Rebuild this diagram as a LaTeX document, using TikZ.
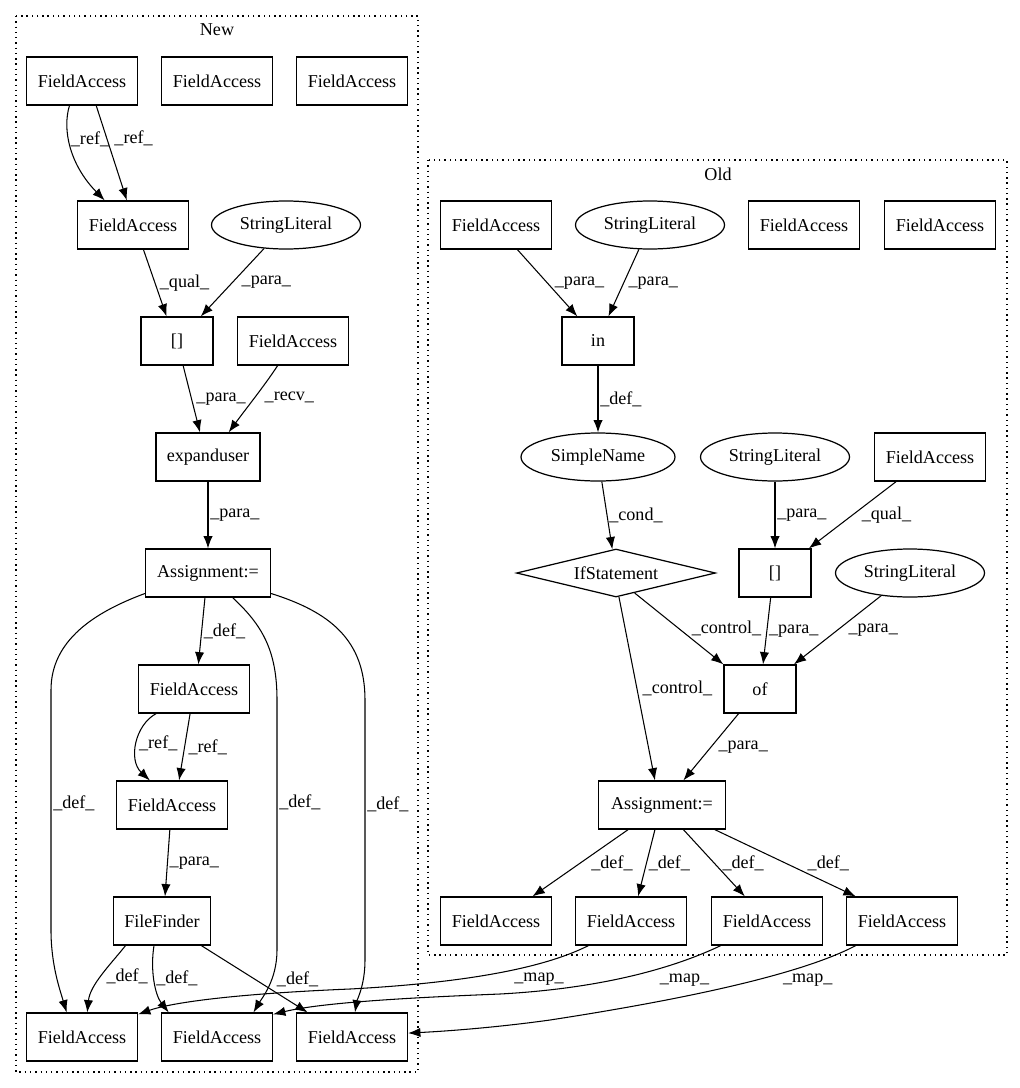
\documentclass[tikz,border=0pt]{standalone}
\usepackage{fontspec}
\setmainfont{Liberation Serif}
\usepackage{tikz}
\usetikzlibrary{arrows.meta, shapes.geometric}
\tikzset{box/.style = {shape = rectangle, draw, line width = 0.7pt, minimum width = 2.22cm, minimum height = 0.96cm, inner sep = 0pt, font = \fontsize{10.3}{12}\selectfont}}
\tikzset{lit/.style = {shape = ellipse, draw, line width = 0.7pt, minimum width = 2.98cm, minimum height = 0.96cm, inner sep = 0pt, font = \fontsize{10.3}{12}\selectfont}}
\tikzset{cond/.style = {shape = diamond, draw, line width = 0.7pt, aspect = 4.15, minimum width = 3.98cm, minimum height = 0.96cm, inner sep = 0pt, font = \fontsize{10.3}{12}\selectfont}}
\tikzset{edge/.style = {-{Latex[length = 7pt, width = 5.3pt]}, line width = 0.6pt}}
\tikzset{lbl/.style = {font = \fontsize{10.3}{12}\selectfont, inner sep = 1pt, anchor = west}}
\tikzset{cluster/.style = {draw, line width = 0.7pt, dash pattern = on 0.8pt off 2.2pt}}

\begin{document}
\begin{tikzpicture}[x = 0.02cm, y = -0.02cm]
	\fill[white] (0, 0) rectangle (1020, 1088);
	\useasboundingbox (0, 0) rectangle (1020, 1088);

	\draw[cluster] (16, 16) rectangle (418, 1072);
	\draw[cluster] (428, 160) rectangle (1007, 955);
	\node[font = \fontsize{10.3}{12}\selectfont] (tnew) at (217, 30) {New};
	\node[font = \fontsize{10.3}{12}\selectfont] (told) at (718, 174) {Old};

	\node[box] (n1) at (82, 81) {FieldAccess};
	\node[box] (n2) at (217, 81) {FieldAccess};
	\node[box] (n3) at (352, 81) {FieldAccess};
	\node[box] (n4) at (133, 225) {FieldAccess};
	\node[lit] (s1) at (286, 225) {StringLiteral};
	\node[box, minimum width = 1.44cm] (b1) at (177, 341) {[]};
	\node[box] (n5) at (293, 341) {FieldAccess};
	\node[box, minimum width = 2.08cm] (ex) at (208, 457) {expanduser};
	\node[box, minimum width = 2.5cm] (a1) at (208, 573) {Assignment:=};
	\node[box] (n6) at (194, 689) {FieldAccess};
	\node[box] (n7) at (172, 805) {FieldAccess};
	\node[box, minimum width = 1.94cm] (ff) at (162, 921) {FileFinder};
	\node[box] (n8) at (82, 1037) {FieldAccess};
	\node[box] (n9) at (217, 1037) {FieldAccess};
	\node[box] (n10) at (352, 1037) {FieldAccess};

	\node[box] (o1) at (496, 225) {FieldAccess};
	\node[lit] (s2) at (650, 225) {StringLiteral};
	\node[box] (o2) at (804, 225) {FieldAccess};
	\node[box] (o3) at (940, 225) {FieldAccess};
	\node[box, minimum width = 1.44cm] (nin) at (598, 341) {in};
	\node[lit, minimum width = 3.08cm] (sn) at (598, 457) {SimpleName};
	\node[lit] (s3) at (775, 457) {StringLiteral};
	\node[box] (o4) at (930, 457) {FieldAccess};
	\node[cond] (nif) at (616, 573) {IfStatement};
	\node[box, minimum width = 1.44cm] (b2) at (775, 573) {[]};
	\node[lit] (s4) at (910, 573) {StringLiteral};
	\node[box, minimum width = 1.44cm] (nof) at (760, 689) {of};
	\node[box, minimum width = 2.54cm] (a2) at (662, 805) {Assignment:=};
	\node[box] (o5) at (496, 921) {FieldAccess};
	\node[box] (o6) at (631, 921) {FieldAccess};
	\node[box] (o7) at (767, 921) {FieldAccess};
	\node[box] (o8) at (902, 921) {FieldAccess};

	\draw[edge] (n1.243) .. controls (62, 130) and (70, 165) .. node[lbl, pos = 0.4] {\_ref\_} (n4.139);
	\draw[edge] (n1.300) -- node[lbl, pos = 0.35, xshift = 3pt] {\_ref\_} (n4.104);
	\draw[edge] (n4.293) -- node[lbl, xshift = 1.5pt] {\_qual\_} (b1.113);
	\draw[edge] (s1) -- node[lbl, xshift = 4pt] {\_para\_} (b1.46);
	\draw[edge] (b1.284) -- node[lbl, xshift = 1.5pt] {\_para\_} (ex.108);
	\draw[edge] (n5.238) .. controls (265, 385) and (245, 410) .. node[lbl, xshift = 4.5pt] {\_recv\_} (ex.50);
	\draw[edge] (ex) -- node[lbl] {\_para\_} (a1);
	\draw[edge] (a1.263) -- node[lbl] {\_def\_} (n6.80);
	\draw[edge] (n6.213) .. controls (135, 725) and (128, 760) .. node[lbl] {\_ref\_} (n7.132);
	\draw[edge] (n6.261) -- node[lbl, xshift = 1pt] {\_ref\_} (n7.74);
	\draw[edge] (n7.265) -- node[lbl] {\_para\_} (ff.83);
	\draw[edge] (a1.198) .. controls (95, 612) and (51, 640) .. (51, 690) -- node[lbl, pos = 0.47] {\_def\_} (51, 930) .. controls (51, 965) and (60, 990) .. (n8.122);
	\draw[edge] (a1.315) .. controls (262, 625) and (277, 650) .. (277, 700) -- node[lbl, pos = 0.41] {\_def\_} (277, 950) .. controls (277, 980) and (262, 998) .. (n9.34);
	\draw[edge] (a1.342) .. controls (330, 612) and (365, 640) .. (365, 700) -- node[lbl, pos = 0.4] {\_def\_} (365, 960) .. controls (365, 985) and (357, 1000) .. (n10.83);
	\draw[edge] (ff.214) .. controls (110, 965) and (90, 985) .. node[lbl, xshift = 1.5pt] {\_def\_} (n8.78);
	\draw[edge] (ff.252) .. controls (150, 970) and (155, 995) .. node[lbl, pos = 0.45] {\_def\_} (n9.153);
	\draw[edge] (ff.328) -- node[lbl, xshift = 11.5pt] {\_def\_} (n10.151);

	\draw[edge] (o1.311) -- node[lbl, xshift = 3pt] {\_para\_} (nin.130);
	\draw[edge] (s2) -- node[lbl, xshift = 1.5pt] {\_para\_} (nin.67);
	\draw[edge] (nin) -- node[lbl] {\_def\_} (sn);
	\draw[edge] (sn) -- node[lbl] {\_cond\_} (nif);
	\draw[edge] (s3) -- node[lbl] {\_para\_} (b2);
	\draw[edge] (o4.216) -- node[lbl, xshift = 4pt] {\_qual\_} (b2.36);
	\draw[edge] (nif.313) -- node[lbl, xshift = 6pt] {\_control\_} (nof.north west);
	\draw[edge] (nif.277) -- node[lbl, xshift = 2pt] {\_control\_} (a2.106);
	\draw[edge] (b2.260) -- node[lbl] {\_para\_} (nof.83);
	\draw[edge] (s4) -- node[lbl, xshift = 5pt] {\_para\_} (nof.36);
	\draw[edge] (nof.229) -- node[lbl, xshift = 3pt] {\_para\_} (a2.49);
	\draw[edge] (a2.216) -- node[lbl, xshift = 5pt] {\_def\_} (o5.34);
	\draw[edge] (a2.254) -- node[lbl] {\_def\_} (o6.74);
	\draw[edge] (a2.311) -- node[lbl, xshift = 3.5pt] {\_def\_} (o7.132);
	\draw[edge] (a2.335) -- node[lbl, xshift = 11.5pt] {\_def\_} (o8.152);

	\draw[edge] (o6.210) .. controls (550, 965) and (480, 982) .. node[lbl, anchor = center, pos = 0.33, yshift = -9pt] {\_map\_} (350, 989) .. controls (230, 994) and (170, 1003) .. (n8.22);
	\draw[edge] (o7.208) .. controls (680, 965) and (610, 988) .. node[lbl, anchor = center, pos = 0.25, yshift = -11pt] {\_map\_} (500, 994) .. controls (400, 998) and (320, 1003) .. (n9.22);
	\draw[edge] (o8.208) .. controls (800, 975) and (680, 1000) .. node[lbl, anchor = center, pos = 0.23, yshift = -8.5pt] {\_map\_} (550, 1020) .. controls (500, 1027) and (450, 1031) .. (n10.4);
\end{tikzpicture}
\end{document}
